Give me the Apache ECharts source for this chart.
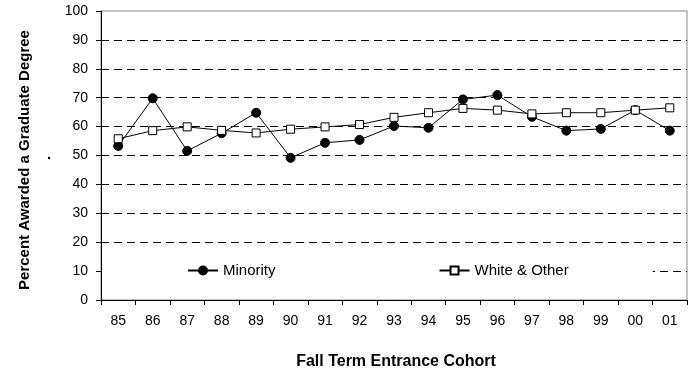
<!DOCTYPE html>
<html>
<head>
<meta charset="utf-8">
<script src="https://cdn.jsdelivr.net/npm/echarts@6/dist/echarts.min.js"></script>
<style>
  html, body { margin: 0; padding: 0; background: #fff; }
  #chart { width: 688px; height: 372px; }
</style>
</head>
<body>
<div id="chart"></div>
<script>
// Entrance cohorts (fall term, two-digit year)
const cohorts = ['85', '86', '87', '88', '89', '90', '91', '92', '93', '94', '95', '96', '97', '98', '99', '00', '01'];

// Percent of each cohort awarded a graduate degree
const minority = [53.3, 69.8, 51.6, 57.7, 64.8, 49.2, 54.4, 55.4, 60.2, 59.6, 69.4, 70.9, 63.4, 58.6, 59.2, 65.7, 58.6];
const whiteOther = [55.8, 58.6, 59.9, 58.7, 57.8, 59.1, 59.9, 60.7, 63.2, 64.8, 66.3, 65.7, 64.4, 64.8, 64.8, 65.7, 66.5];

const FONT = 'Liberation Sans, Arial, sans-serif';

const chart = echarts.init(document.getElementById('chart'), null, { renderer: 'canvas' });

chart.setOption({
  animation: false,
  backgroundColor: '#fff',
  grid: {
    left: 101, right: 1, top: 11, bottom: 72,
    show: true, borderColor: '#888', borderWidth: 1, backgroundColor: 'transparent'
  },
  xAxis: {
    type: 'category',
    data: cohorts,
    boundaryGap: true,
    axisLine: { lineStyle: { color: '#000', width: 1 } },
    axisTick: { show: true, inside: false, length: 5, alignWithLabel: false, lineStyle: { color: '#000' } },
    axisLabel: { color: '#000', fontFamily: FONT, fontSize: 14, margin: 14 },
    splitLine: { show: false }
  },
  yAxis: {
    type: 'value',
    min: 0, max: 100, interval: 10,
    axisLine: { show: true, lineStyle: { color: '#000', width: 1 } },
    axisTick: { show: true, inside: false, length: 5, lineStyle: { color: '#000' } },
    axisLabel: { color: '#000', fontFamily: FONT, fontSize: 14, margin: 13 },
    splitLine: {
      show: true,
      showMinLine: false,
      showMaxLine: false,
      lineStyle: { color: '#000', width: 1, type: [8, 5] }
    }
  },
  legend: {
    left: 102,
    top: 258,
    orient: 'horizontal',
    backgroundColor: '#fff',
    padding: [5, 84, 5, 85],
    itemWidth: 30,
    itemHeight: 10,
    itemGap: 163,
    textStyle: { color: '#000', fontFamily: FONT, fontSize: 15 },
    data: ['Minority', 'White & Other']
  },
  series: [
    {
      name: 'Minority',
      type: 'line',
      data: minority,
      symbol: 'circle',
      symbolSize: 9,
      showAllSymbol: true,
      lineStyle: { color: '#000', width: 1 },
      itemStyle: { color: '#000', borderColor: '#000', borderWidth: 1 },
      z: 3
    },
    {
      name: 'White & Other',
      type: 'line',
      data: whiteOther,
      symbol: 'rect',
      symbolSize: 8,
      showAllSymbol: true,
      lineStyle: { color: '#000', width: 1 },
      itemStyle: { color: '#fff', borderColor: '#000', borderWidth: 1 },
      z: 4
    }
  ],
  graphic: [
    {
      type: 'text',
      x: 25, y: 160,
      rotation: Math.PI / 2,
      style: {
        text: 'Percent Awarded a Graduate Degree',
        font: 'bold 15px ' + FONT,
        fill: '#000',
        align: 'center',
        verticalAlign: 'middle'
      }
    },
    {
      type: 'text',
      x: 49, y: 155,
      style: { text: '.', font: 'bold 15px ' + FONT, fill: '#000', align: 'center', verticalAlign: 'middle' }
    },
    {
      type: 'text',
      x: 396, y: 362,
      style: {
        text: 'Fall Term Entrance Cohort',
        font: 'bold 16px ' + FONT,
        fill: '#000',
        align: 'center',
        verticalAlign: 'middle'
      }
    }
  ]
});
</script>
</body>
</html>
